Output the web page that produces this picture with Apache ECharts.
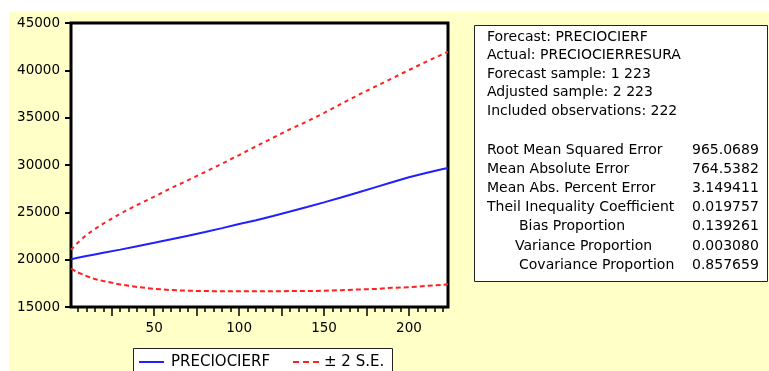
<!DOCTYPE html>
<html>
<head>
<meta charset="utf-8">
<script src="https://cdn.jsdelivr.net/npm/echarts@6/dist/echarts.min.js"></script>
<style>
  html, body { margin: 0; padding: 0; background: #ffffff; }
  #chart { width: 769px; height: 371px; }
</style>
</head>
<body>
<div id="chart"></div>
<script>
// Forecast horizon (observation index) at which the values below are given
const obs = [1, 5, 10, 15, 20, 30, 40, 50, 60, 70, 80, 90, 100, 110, 120, 130, 140, 150, 160, 170, 180, 190, 200, 210, 220, 223];

// Point forecast PRECIOCIERF
const forecast = [20050, 20200, 20380, 20550, 20720, 21060, 21420, 21780, 22150, 22530, 22920, 23330, 23760, 24170, 24620, 25080, 25560, 26050, 26570, 27100, 27640, 28180, 28700, 29160, 29580, 29690];

// Forecast + 2 standard errors
const upperBand = [21050, 21800, 22600, 23230, 23800, 24860, 25780, 26660, 27560, 28400, 29260, 30150, 31050, 31980, 32880, 33780, 34600, 35500, 36450, 37380, 38270, 39150, 40030, 40900, 41720, 41950];

// Forecast - 2 standard errors
const lowerBand = [19050, 18650, 18280, 17950, 17750, 17380, 17110, 16920, 16790, 16720, 16680, 16670, 16670, 16670, 16670, 16680, 16690, 16710, 16780, 16850, 16900, 17030, 17080, 17230, 17330, 17400];

// Axis ticks and labels
const yTickValues = [15000, 20000, 25000, 30000, 35000, 40000, 45000];
const xLabelValues = [50, 100, 150, 200];
const xMajorTicks = [25, 50, 75, 100, 125, 150, 175, 200];
const xMinorStep = 5;

// Legend entries
const legendNames = ['PRECIOCIERF', '\u00b1 2 S.E.'];

// Forecast evaluation table
const headerLines = [
  'Forecast: PRECIOCIERF',
  'Actual: PRECIOCIERRESURA',
  'Forecast sample: 1 223',
  'Adjusted sample: 2 223',
  'Included observations: 222'
];
const statNames = [
  'Root Mean Squared Error',
  'Mean Absolute Error',
  'Mean Abs. Percent Error',
  'Theil Inequality Coefficient',
  'Bias Proportion',
  'Variance Proportion',
  'Covariance Proportion'
];
const statValues = ['965.0689', '764.5382', '3.149411', '0.019757', '0.139261', '0.003080', '0.857659'];
const statIndent = [0, 0, 0, 0, 32, 28, 32];

const xMinorTicks = [];
for (let v = xMinorStep; v <= 220; v += xMinorStep) xMinorTicks.push(v);

const pairs = (ys) => obs.map((x, i) => [x, ys[i]]);

const FONT = 'DejaVu Sans';
const TABLE_FONT = '14px ' + FONT;
const YELLOW = '#ffffc8';

const graphics = [
  // panel background
  { type: 'rect', z: -100, silent: true, shape: { x: 9, y: 12, width: 760, height: 359 }, style: { fill: YELLOW } },
  // statistics box
  { type: 'rect', z: 10, shape: { x: 474.5, y: 25.5, width: 293, height: 256 }, style: { fill: '#ffffff', stroke: '#222222', lineWidth: 1 } },
  // legend box
  { type: 'rect', z: 10, shape: { x: 133.5, y: 348.5, width: 259, height: 40 }, style: { fill: '#ffffff', stroke: '#222222', lineWidth: 1 } },
  { type: 'line', z: 11, shape: { x1: 139, y1: 362, x2: 164, y2: 362 }, style: { stroke: '#2020ff', lineWidth: 2 } },
  { type: 'text', z: 11, x: 171, y: 362, style: { text: legendNames[0], font: '15px ' + FONT, fill: '#000', textVerticalAlign: 'middle' } },
  { type: 'line', z: 11, shape: { x1: 293, y1: 362, x2: 321, y2: 362 }, style: { stroke: '#ff2020', lineWidth: 2, lineDash: [6, 4] } },
  { type: 'text', z: 11, x: 324, y: 362, style: { text: legendNames[1], font: '15px ' + FONT, fill: '#000', textVerticalAlign: 'middle' } }
];

headerLines.forEach((t, i) => {
  graphics.push({ type: 'text', z: 11, x: 487, y: 37 + i * 18.6,
    style: { text: t, font: TABLE_FONT, fill: '#000', textVerticalAlign: 'middle' } });
});
statNames.forEach((t, i) => {
  const y = 150 + i * 19.2;
  graphics.push({ type: 'text', z: 11, x: 487 + statIndent[i], y: y,
    style: { text: t, font: TABLE_FONT, fill: '#000', textVerticalAlign: 'middle' } });
  graphics.push({ type: 'text', z: 11, x: 692, y: y,
    style: { text: statValues[i], font: TABLE_FONT, fill: '#000', textVerticalAlign: 'middle' } });
});

const baseX = {
  type: 'value', min: 1, max: 223, position: 'bottom', gridIndex: 0,
  splitLine: { show: false }
};

const chart = echarts.init(document.getElementById('chart'));
chart.setOption({
  animation: false,
  backgroundColor: 'transparent',
  grid: {
    left: 71, top: 23, right: 321, bottom: 64,
    containLabel: false, outerBoundsMode: 'none',
    show: true, backgroundColor: '#ffffff', borderColor: '#000000', borderWidth: 3
  },
  xAxis: [
    Object.assign({}, baseX, {
      axisLine: { show: false },
      axisTick: { show: true, inside: false, length: 9, customValues: xMajorTicks, lineStyle: { color: '#000', width: 1.5 } },
      axisLabel: { show: true, customValues: xLabelValues, margin: 14, color: '#000', fontFamily: FONT, fontSize: 13.5,
        formatter: (v) => String(v) }
    }),
    Object.assign({}, baseX, {
      axisLine: { show: false },
      axisTick: { show: true, inside: false, length: 5, customValues: xMinorTicks, lineStyle: { color: '#000', width: 1.5 } },
      axisLabel: { show: false }
    })
  ],
  yAxis: {
    type: 'value', min: 15000, max: 45000, interval: 5000,
    splitLine: { show: false },
    axisLine: { show: false },
    axisTick: { show: true, inside: false, length: 6, customValues: yTickValues, lineStyle: { color: '#000', width: 2 } },
    axisLabel: { show: true, customValues: yTickValues, margin: 11, color: '#000', fontFamily: FONT, fontSize: 13.5,
      formatter: (v) => String(v) }
  },
  series: [
    { name: legendNames[0], type: 'line', xAxisIndex: 0, data: pairs(forecast), showSymbol: false, symbol: 'none',
      lineStyle: { color: '#2020ff', width: 2 }, z: 3 },
    { name: legendNames[1], type: 'line', xAxisIndex: 0, data: pairs(upperBand), showSymbol: false, symbol: 'none',
      lineStyle: { color: '#ff2020', width: 2, type: [4, 4] }, z: 2 },
    { name: legendNames[1], type: 'line', xAxisIndex: 0, data: pairs(lowerBand), showSymbol: false, symbol: 'none',
      lineStyle: { color: '#ff2020', width: 2, type: [5, 3] }, z: 2 }
  ],
  graphic: graphics
});
</script>
</body>
</html>
